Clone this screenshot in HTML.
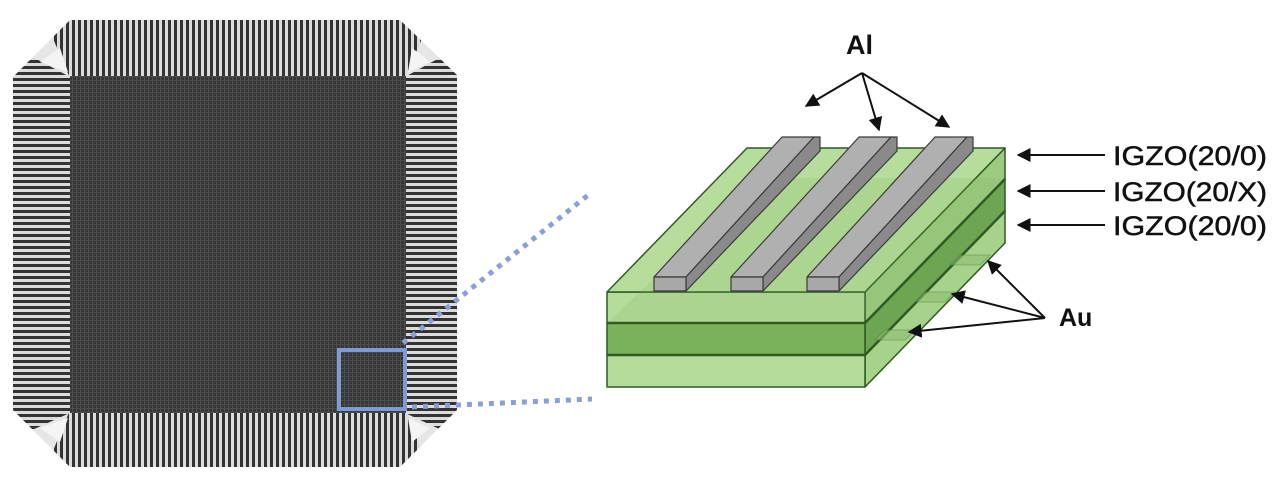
<!DOCTYPE html>
<html><head><meta charset="utf-8"><style>
html,body{margin:0;padding:0;background:#fff;width:1280px;height:480px;overflow:hidden}
svg{display:block}
text{font-family:"Liberation Sans",sans-serif;fill:#111}
</style></head><body>
<svg width="1280" height="480" viewBox="0 0 1280 480" xmlns="http://www.w3.org/2000/svg">
<defs>
<pattern id="vs" width="6" height="10" patternUnits="userSpaceOnUse"><rect width="6" height="10" fill="#dcdcdc"/><rect x="0" width="3" height="10" fill="#333"/></pattern>
<pattern id="hs" width="10" height="6" patternUnits="userSpaceOnUse"><rect width="10" height="6" fill="#dcdcdc"/><rect y="0" width="10" height="3" fill="#333"/></pattern>
<pattern id="grid" width="4" height="4" patternUnits="userSpaceOnUse"><rect width="4" height="4" fill="#3c3c3c"/><rect width="1" height="4" fill="#5a5a5a"/><rect width="4" height="1" fill="#555"/></pattern>
<marker id="ah" viewBox="0 0 10 10" refX="9" refY="5" markerWidth="7" markerHeight="7" orient="auto"><path d="M0,0 L10,5 L0,10 z" fill="#111"/></marker>
<clipPath id="chip"><polygon points="70,20 400,20 457,75 457,410 400,467 70,467 13,410 13,77"/></clipPath>
</defs>
<!-- chip photo -->
<g clip-path="url(#chip)">
<rect x="0" y="0" width="470" height="480" fill="#e6e6e6"/>
<polygon points="45,20 430,20 405,78 70,78" fill="url(#vs)"/>
<polygon points="70,410 405,410 430,470 45,470" fill="url(#vs)"/>
<polygon points="10,45 72,78 72,412 10,440" fill="url(#hs)"/>
<polygon points="403,78 463,45 463,440 403,412" fill="url(#hs)"/>
<rect x="70" y="76" width="336" height="337" fill="url(#grid)"/>
<rect x="70" y="76" width="336" height="337" fill="#222" opacity="0.2"/>
<polygon points="40,62 60,48 68,72" fill="#f4f4f4"/>
<polygon points="412,48 430,62 408,72" fill="#f4f4f4"/>
<polygon points="40,428 60,442 68,418" fill="#f4f4f4"/>
<polygon points="412,442 430,428 408,418" fill="#f4f4f4"/>
</g>
<!-- blue box + dotted lines -->
<rect x="339" y="350" width="66" height="59" fill="none" stroke="#7f9bd6" stroke-width="4"/>
<line x1="403" y1="343" x2="592" y2="192" stroke="#8a9fd6" stroke-width="5" stroke-dasharray="5 6"/>
<line x1="412" y1="407" x2="592" y2="399" stroke="#8a9fd6" stroke-width="5" stroke-dasharray="5 6"/>
<!-- block -->
<g stroke="#2f5a22" stroke-width="1.5" stroke-linejoin="round">
<polygon points="865,292 1005,148 1005,179 865,323" fill="#9ccb80"/>
<polygon points="865,323 1005,179 1005,211 865,355" fill="#6ea552"/>
<polygon points="865,355 1005,211 1005,243 865,387" fill="#a6d28c"/>
<rect x="607" y="292" width="258" height="31" fill="#b5dc9b"/>
<rect x="607" y="323" width="258" height="32" fill="#79b25b"/>
<rect x="607" y="355" width="258" height="32" fill="#b5dc9b"/>
<polygon points="607,292 865,292 1005,148 747,148" fill="#b7dd9c"/>
</g>
<polygon points="760,178 1005,178 865,323 607,323 " fill="#7ab05c" opacity="0.18"/>
<g stroke="#2f5a22" stroke-width="2.5">
<line x1="607" y1="323" x2="865" y2="323"/><line x1="607" y1="355" x2="865" y2="355"/>
<line x1="865" y1="323" x2="1005" y2="179"/><line x1="865" y1="355" x2="1005" y2="211"/>
</g>
<g fill="#8fbf74" opacity="0.6" stroke="#4d7d3a" stroke-width="0.8">
<polygon points="960,255 990,255 980,265 950,265"/>
<polygon points="925,292 955,292 945,302 915,302"/>
<polygon points="885,330 915,330 905,340 875,340"/>
</g>
<!-- Al bars -->
<g stroke="#3a3a3a" stroke-width="1.2" stroke-linejoin="round">
<polygon points="654,277 686,277 814,137 782,137" fill="#b0b0b0"/>
<polygon points="686,277 814,137 820,137 820,151 686,291" fill="#8a8a8a"/>
<rect x="654" y="277" width="32" height="14" fill="#a8a8a8"/>
<polygon points="731,277 763,277 891,137 859,137" fill="#b0b0b0"/>
<polygon points="763,277 891,137 897,137 897,151 763,291" fill="#8a8a8a"/>
<rect x="731" y="277" width="32" height="14" fill="#a8a8a8"/>
<polygon points="807,277 839,277 967,137 935,137" fill="#b0b0b0"/>
<polygon points="839,277 967,137 973,137 973,151 839,291" fill="#8a8a8a"/>
<rect x="807" y="277" width="32" height="14" fill="#a8a8a8"/>
</g>
<g stroke="#111" stroke-width="2" fill="none" marker-end="url(#ah)">
<line x1="862" y1="73" x2="806" y2="106"/>
<line x1="862" y1="73" x2="879" y2="130"/>
<line x1="862" y1="73" x2="949" y2="127"/>
<line x1="1105" y1="155" x2="1018" y2="155"/>
<line x1="1105" y1="191" x2="1018" y2="191"/>
<line x1="1105" y1="225" x2="1018" y2="225"/>
<line x1="1045" y1="318" x2="988" y2="261"/>
<line x1="1045" y1="318" x2="952" y2="294"/>
<line x1="1045" y1="318" x2="909" y2="332"/>
</g>
<text x="846" y="54" font-size="27" font-weight="bold">Al</text>
<text x="1113" y="165" font-size="27" textLength="154" lengthAdjust="spacingAndGlyphs" stroke="#111" stroke-width="0.5">IGZO(20/0)</text>
<text x="1113" y="201" font-size="27" textLength="154" lengthAdjust="spacingAndGlyphs" stroke="#111" stroke-width="0.5">IGZO(20/X)</text>
<text x="1113" y="235" font-size="27" textLength="154" lengthAdjust="spacingAndGlyphs" stroke="#111" stroke-width="0.5">IGZO(20/0)</text>
<text x="1059" y="326" font-size="25" font-weight="bold">Au</text>
</svg>
</body></html>
